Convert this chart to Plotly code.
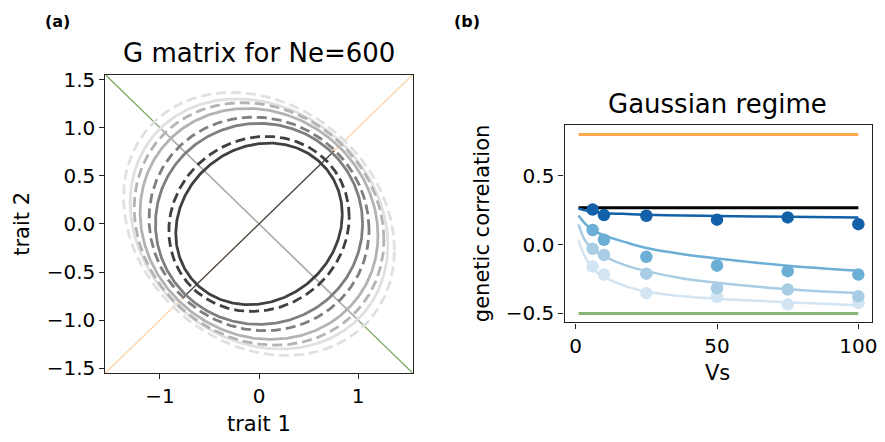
import numpy as np
import plotly.graph_objects as go

# ---------------- data: panel (a) ----------------
ell_shades = ["#404040", "#404040", "#7f7f7f", "#7f7f7f", "#b3b3b3", "#b3b3b3", "#e0e0e0", "#e0e0e0"]
ell_dash = ["solid", "dash", "solid", "dash", "solid", "dash", "solid", "dash"]
ell_sd = [0.84, 0.91, 1.045, 1.11, 1.20, 1.26, 1.30, 1.367]      # sd of each trait
ell_corr = [0.12, 0.08, 0.0, -0.05, -0.10, -0.13, -0.17, -0.20]  # correlation
axis_pos = 1.03    # half-length of the negative-direction eigen segment
axis_neg = 0.76    # half-length of the positive-direction eigen segment

# ---------------- data: panel (b) ----------------
vs_pts = [6, 10, 25, 50, 75, 100]
pts = {
    "#d3e4f3": [-0.160, -0.218, -0.352, -0.380, -0.434, -0.423],
    "#a8cde4": [-0.031, -0.075, -0.211, -0.317, -0.326, -0.376],
    "#6baed6": [0.106, 0.035, -0.089, -0.153, -0.193, -0.218],
    "#1260a8": [0.254, 0.214, 0.209, 0.181, 0.197, 0.148],
}
vs_curve = [1, 3, 6, 11, 18, 25, 38, 50, 75, 100]
curves = {
    "#d3e4f3": [0.030, -0.075, -0.176, -0.246, -0.305, -0.340, -0.376, -0.394, -0.418, -0.440],
    "#a8cde4": [0.146, 0.040, -0.035, -0.094, -0.153, -0.193, -0.246, -0.277, -0.324, -0.352],
    "#6baed6": [0.211, 0.160, 0.105, 0.060, 0.015, -0.025, -0.070, -0.101, -0.153, -0.190],
    "#1260a8": [0.262, 0.250, 0.238, 0.228, 0.222, 0.217, 0.211, 0.207, 0.202, 0.197],
}
h_x = [1, 100]
h_upper = 0.8
h_mid = 0.268
h_lower = -0.5

FONT = "DejaVu Sans"
fig = go.Figure()

# panel (a) diagonals
lim = 1.55
fig.add_trace(go.Scatter(x=[-lim, lim], y=[lim, -lim], mode="lines",
                         line=dict(color="#74a559", width=1.2), xaxis="x", yaxis="y", showlegend=False))
fig.add_trace(go.Scatter(x=[-lim, lim], y=[-lim, lim], mode="lines",
                         line=dict(color="#fdd0a4", width=1.2), xaxis="x", yaxis="y", showlegend=False))
fig.add_trace(go.Scatter(x=[-axis_pos, axis_pos], y=[axis_pos, -axis_pos], mode="lines",
                         line=dict(color="#b0b0b0", width=1.5), xaxis="x", yaxis="y", showlegend=False))
fig.add_trace(go.Scatter(x=[-axis_neg, axis_neg], y=[-axis_neg, axis_neg], mode="lines",
                         line=dict(color="#404040", width=1.2), xaxis="x", yaxis="y", showlegend=False))

t = np.linspace(0, 2 * np.pi, 361)
for i in reversed(range(len(ell_sd))):
    s, r = ell_sd[i], ell_corr[i]
    G = np.array([[s * s, r * s * s], [r * s * s, s * s]])
    L = np.linalg.cholesky(G)
    P = L @ np.vstack([np.cos(t), np.sin(t)])
    dash = "10px,5px" if ell_dash[i] == "dash" else "solid"
    fig.add_trace(go.Scatter(x=P[0], y=P[1], mode="lines",
                             line=dict(color=ell_shades[i], width=2.8, dash=dash),
                             xaxis="x", yaxis="y", showlegend=False))

# panel (b)
fig.add_trace(go.Scatter(x=h_x, y=[h_upper] * 2, mode="lines", line=dict(color="#ffab4d", width=3),
                         xaxis="x2", yaxis="y2", showlegend=False))
fig.add_trace(go.Scatter(x=h_x, y=[h_lower] * 2, mode="lines", line=dict(color="#8cb479", width=3),
                         xaxis="x2", yaxis="y2", showlegend=False))
fig.add_trace(go.Scatter(x=h_x, y=[h_mid] * 2, mode="lines", line=dict(color="#000000", width=3),
                         xaxis="x2", yaxis="y2", showlegend=False))
for col in curves:
    fig.add_trace(go.Scatter(x=vs_curve, y=curves[col], mode="lines",
                             line=dict(color=col, width=2.5, shape="spline", smoothing=0.8),
                             xaxis="x2", yaxis="y2", showlegend=False))
    fig.add_trace(go.Scatter(x=vs_pts, y=pts[col], mode="markers",
                             marker=dict(color=col, size=12.5, line=dict(width=0)),
                             xaxis="x2", yaxis="y2", showlegend=False))

ax_common = dict(showgrid=False, zeroline=False, showline=True, mirror=True,
                 linecolor="#222222", linewidth=1.3, ticks="outside", ticklen=5,
                 tickcolor="#222222", tickwidth=1.2,
                 tickfont=dict(family=FONT, size=20, color="black"))

fig.update_layout(
    width=885, height=442, margin=dict(l=0, r=0, t=0, b=0),
    paper_bgcolor="white", plot_bgcolor="white",
    xaxis=dict(domain=[0.1198, 0.4689], range=[-lim, lim], tickvals=[-1, 0, 1],
               anchor="y", **ax_common),
    yaxis=dict(domain=[0.1448, 0.8416], range=[-lim, lim],
               tickvals=[-1.5, -1.0, -0.5, 0.0, 0.5, 1.0, 1.5], tickformat=".1f",
               anchor="x", **ax_common),
    xaxis2=dict(domain=[0.6415, 0.9913], range=[-3.95, 104.95], tickvals=[0, 50, 100],
                anchor="y2", **ax_common),
    yaxis2=dict(domain=[0.2631, 0.7233], range=[-0.565, 0.865],
                tickvals=[-0.5, 0.0, 0.5], tickformat=".1f", anchor="x2", **ax_common),
)

def ann(text, x, y, size, bold=False, angle=0):
    fig.add_annotation(text=f"<b>{text}</b>" if bold else text, x=x / 885, y=1 - y / 442,
                       xref="paper", yref="paper", showarrow=False, textangle=angle,
                       xanchor="center", yanchor="middle",
                       font=dict(family=FONT, size=size, color="black"))

ann("(a)", 58, 15, 16, bold=True)
ann("(b)", 470, 15, 16, bold=True)
ann("G matrix for Ne=600", 260, 48, 26)
ann("Gaussian regime", 722, 100, 26)
ann("trait 1", 260, 431, 21)
ann("trait 2", 22, 224, 21, angle=-90)
ann("Vs", 722, 378, 21)
ann("genetic correlation", 485, 224, 21, angle=-90)

fig.write_html("out.html")
